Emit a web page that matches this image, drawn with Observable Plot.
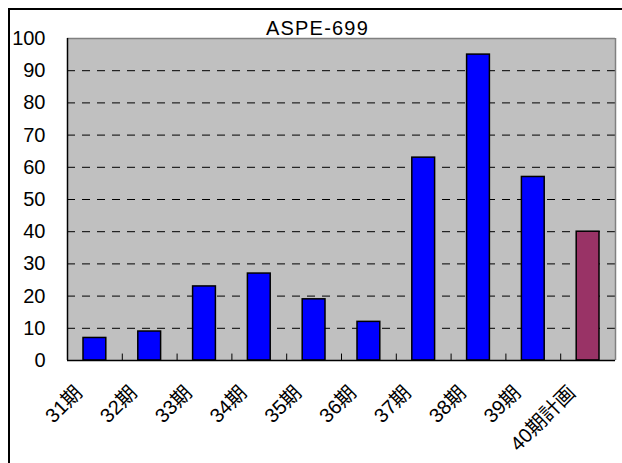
<!DOCTYPE html>
<html>
<head>
<meta charset="utf-8">
<script src="https://cdn.jsdelivr.net/npm/d3@7"></script>
<script src="https://cdn.jsdelivr.net/npm/@observablehq/plot@0.6"></script>
<style>
  html, body { margin: 0; padding: 0; background: #fff; overflow: hidden; }
  #wrap { position: relative; width: 622px; height: 463px; }
  #border { position: absolute; left: 8px; top: 8px; width: 700px; height: 600px;
            border-left: 2px solid #000; border-top: 2px solid #000; pointer-events: none; }
  svg g[aria-label="text"] text { letter-spacing: 1.2px; }
</style>
</head>
<body>
<div id="wrap"><div id="chart"></div><div id="border"></div></div>
<script>
const title = "ASPE-699";
const categories = ["31期","32期","33期","34期","35期","36期","37期","38期","39期","40期計画"];
const values = [7, 9, 23, 27, 19, 12, 63, 95, 57, 40];
const planned = [false, false, false, false, false, false, false, false, false, true];
const yTicks = [0, 10, 20, 30, 40, 50, 60, 70, 80, 90, 100];

const data = categories.map((c, i) => ({cat: c, idx: i, value: values[i], planned: planned[i]}));
const font = "'Liberation Sans', Arial, 'Noto Sans CJK JP', sans-serif";
const tickLen = 2; // boundary tick length in y units (~6px)

const chart = Plot.plot({
  width: 622,
  height: 463,
  marginLeft: 67,
  marginRight: 7,
  marginTop: 38,
  marginBottom: 103,
  style: {fontFamily: font, fontSize: "20px", color: "#000", background: "transparent"},
  x: {type: "linear", domain: [0, categories.length], label: null},
  y: {domain: [0, 100], label: null},
  marks: [
    Plot.frame({fill: "#c0c0c0", stroke: null}),
    Plot.ruleY(yTicks.filter(t => t > 0 && t < 100), {stroke: "#000", strokeWidth: 1, strokeDasharray: "8,7"}),
    Plot.ruleY([100], {stroke: "#808080", strokeWidth: 1.5}),
    Plot.ruleX([categories.length], {stroke: "#808080", strokeWidth: 1.5}),
    Plot.rectY(data, {x: "idx", interval: 1, y: "value", insetLeft: 16, insetRight: 16,
      fill: d => d.planned ? "#993366" : "#0000ff", stroke: "#000", strokeWidth: 1.5}),
    Plot.ruleX(d3.range(1, categories.length), {y1: 0, y2: tickLen, stroke: "#000", strokeWidth: 1}),
    Plot.ruleX([0], {stroke: "#000", strokeWidth: 1.5}),
    Plot.ruleY([0], {stroke: "#000", strokeWidth: 1.5}),
    Plot.axisX({ticks: categories.map((c, i) => i + 0.5), tickFormat: v => categories[Math.floor(v)],
      tickSize: 0, tickPadding: 33, dx: -16, dy: -4, tickRotate: -45, fontSize: 20, fill: "#000", label: null}),
    Plot.axisY({ticks: yTicks, tickSize: 0, tickPadding: 22, fontSize: 20, fill: "#000", label: null}),
    Plot.text([title], {frameAnchor: "top", lineAnchor: "bottom", dx: -24, dy: -4, fontSize: 20, fill: "#000"})
  ]
});
document.getElementById("chart").appendChild(chart);
</script>
</body>
</html>
